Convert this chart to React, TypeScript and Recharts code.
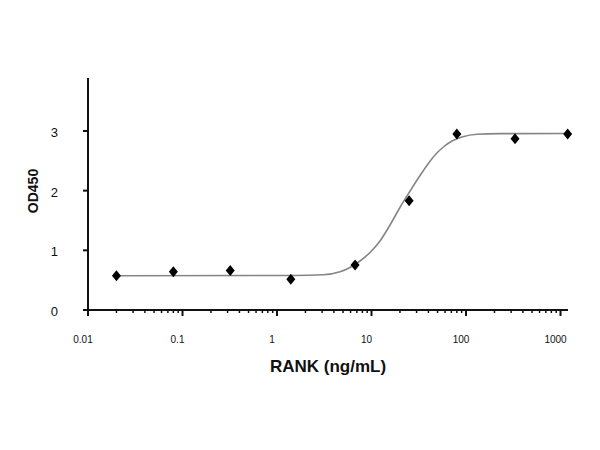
import { ComposedChart, Line, Scatter, XAxis, YAxis, Label } from "recharts";

// measured points (ng/mL vs OD450)
const doses = [0.02, 0.08, 0.32, 1.4, 6.7, 25, 80, 330, 1190];
const od450 = [0.575, 0.64, 0.66, 0.515, 0.755, 1.83, 2.95, 2.87, 2.95];

// fitted curve
const fitDoses = [0.02, 1.48, 3.07, 4.64, 5.92, 7.56, 9.64, 12.3, 15.7, 20, 25.6, 32.6, 39.6, 48.1, 58.5, 71.1, 90.7, 131, 229, 1190];
const fitOd = [0.575, 0.578, 0.59, 0.64, 0.712, 0.821, 0.964, 1.156, 1.424, 1.718, 1.994, 2.254, 2.447, 2.614, 2.74, 2.832, 2.899, 2.945, 2.955, 2.958];

const majorTicks = [0.01, 0.1, 1, 10, 100, 1000];
const minorSteps = [2, 3, 4, 5, 6, 7, 8, 9];
const yTicks = [0, 1, 2, 3];

const xTicks = [
  ...majorTicks,
  ...majorTicks.slice(0, -1).flatMap((m) => minorSteps.map((s) => +(m * s).toPrecision(3))),
].sort((a, b) => a - b);

const points = doses.map((d, i) => ({ x: d, y: od450[i] }));
const curve = fitDoses.map((d, i) => ({ x: d, y: fitOd[i] }));

const font = "'Liberation Sans', Arial, sans-serif";

const XTick = (props: any) => {
  const { x, y, payload } = props;
  const major = majorTicks.includes(payload.value);
  return (
    <g>
      <line
        x1={x}
        y1={y}
        x2={x}
        y2={y + (major ? 6 : 3)}
        stroke="#111"
        strokeWidth={major ? 2 : 1.5}
      />
      {major && (
        <text x={x - 5} y={y + 33} textAnchor="middle" fontSize={10} fontFamily={font} fill="#111">
          {payload.value}
        </text>
      )}
    </g>
  );
};

const YTick = (props: any) => {
  const { x, y, payload } = props;
  return (
    <text x={x} y={y + 6} textAnchor="end" fontSize={13} fontFamily={font} fill="#111">
      {payload.value}
    </text>
  );
};

const Diamond = (props: any) => {
  const { cx, cy } = props;
  if (cx == null || cy == null) return null;
  return <polygon points={`${cx},${cy - 5.5} ${cx + 4.5},${cy} ${cx},${cy + 5.5} ${cx - 4.5},${cy}`} fill="#000" />;
};

export default function App() {
  return (
    <div style={{ position: "absolute", left: 0, top: 0, width: 600, height: 450, background: "#fff" }}>
      <ComposedChart width={600} height={450} margin={{ top: 78, right: 32, bottom: 0, left: 0 }}>
        <XAxis
          dataKey="x"
          type="number"
          scale="log"
          domain={[0.01, 1200]}
          ticks={xTicks}
          interval={0}
          tickSize={0}
          tickMargin={0}
          tick={<XTick />}
          height={140}
          axisLine={{ stroke: "#111", strokeWidth: 2 }}
        >
          <Label
            content={(p: any) => {
              const vb = p.viewBox;
              return (
                <text
                  x={vb.x + vb.width / 2}
                  y={vb.y + 62}
                  textAnchor="middle"
                  fontSize={17}
                  fontWeight="bold"
                  fontFamily={font}
                  fill="#111"
                >
                  RANK (ng/mL)
                </text>
              );
            }}
          />
        </XAxis>
        <YAxis
          dataKey="y"
          type="number"
          domain={[0, 3.888]}
          ticks={yTicks}
          interval={0}
          width={88}
          tickSize={5}
          tickMargin={25}
          tick={<YTick />}
          tickLine={{ stroke: "#111", strokeWidth: 2 }}
          axisLine={{ stroke: "#111", strokeWidth: 2 }}
        >
          <Label
            content={(p: any) => {
              const vb = p.viewBox;
              const cx = vb.x + 38;
              const cy = vb.y + vb.height / 2 - 3;
              return (
                <text
                  x={cx}
                  y={cy}
                  transform={`rotate(-90 ${cx} ${cy})`}
                  textAnchor="middle"
                  fontSize={14}
                  fontWeight="bold"
                  fontFamily={font}
                  fill="#111"
                >
                  OD450
                </text>
              );
            }}
          />
        </YAxis>
        <Line
          data={curve}
          dataKey="y"
          type="monotone"
          stroke="#858585"
          strokeWidth={1.6}
          dot={false}
          activeDot={false}
          isAnimationActive={false}
        />
        <Scatter data={points} dataKey="y" shape={<Diamond />} isAnimationActive={false} />
      </ComposedChart>
    </div>
  );
}
